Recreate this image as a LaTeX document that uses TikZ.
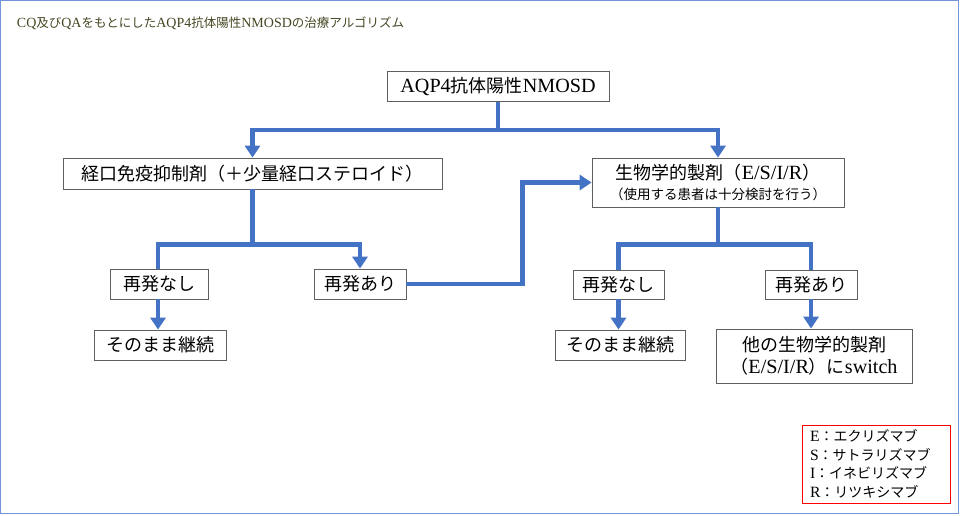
\documentclass[tikz,border=0pt]{standalone}
\usepackage{fontspec}
\setmainfont{Liberation Serif}[Scale=1.12]
\newfontfamily\jp{Noto Sans CJK JP}
\usepackage{tikz}
\usetikzlibrary{arrows.meta, positioning}
\definecolor{linkblue}{RGB}{68,114,196}
\definecolor{frameblue}{RGB}{114,148,216}
\definecolor{titlegreen}{RGB}{70,70,35}
\definecolor{boxgray}{RGB}{95,95,95}
\begin{document}
\begin{tikzpicture}[x=1pt, y=-1pt,
	box/.style = {draw=boxgray, line width=0.8pt, fill=white, inner sep=2pt, align=center, font=\fontsize{18}{22}\selectfont},
	link/.style = {draw=linkblue, line width=4.5pt},
	arrow/.style = {-{Triangle[width=15pt, length=12pt]}},
	legendbox/.style = {draw=red, line width=0.8pt, align=left, text width=132pt, inner xsep=8pt, minimum width=148pt, minimum height=78pt, font=\fontsize{14}{18.5}\selectfont}]
	\useasboundingbox (0,0) rectangle (960,515);
	\draw[frameblue, line width=1pt] (0.5,0.5) rectangle (958.5,513.5);
	\node[anchor=west, text=titlegreen, font=\fontsize{12.5}{14}\selectfont] (title) at (13,23.5) {CQ{\jp 及び}QA{\jp をもとにした}AQP4{\jp 抗体陽性}NMOSD{\jp の治療アルゴリズム}};
	\node[box, minimum width=222pt, minimum height=30pt] (aqp) at (498,86.5) {AQP4{\jp 抗体陽性}NMOSD};
	\node[box, minimum width=379pt, minimum height=31pt] (oral) at (252.5,173.5) {\jp 経口免疫抑制剤（＋少量経口ステロイド）};
	\node[box, minimum width=252pt, minimum height=49pt, font=\fontsize{18}{20}\selectfont] (bio) at (718,182.5) {{\jp 生物学的製剤（}E/S/I/R{\jp ）}\\{\fontsize{13.5}{16}\selectfont\jp （使用する患者は十分検討を行う）}};
	\node[box, minimum width=98pt, minimum height=30pt] (lnone) at (159,284) {\jp 再発なし};
	\node[box, minimum width=92pt, minimum height=30pt] (lrel) at (360,284) {\jp 再発あり};
	\node[box, minimum width=132pt, minimum height=30pt] (lkeep) at (160,345) {\jp そのまま継続};
	\node[box, minimum width=91pt, minimum height=29pt] (rnone) at (618.5,284.5) {\jp 再発なし};
	\node[box, minimum width=92pt, minimum height=29pt] (rrel) at (811,284.5) {\jp 再発あり};
	\node[box, minimum width=130pt, minimum height=30pt] (rkeep) at (620,345) {\jp そのまま継続};
	\node[box, minimum width=196pt, minimum height=54pt] (rswitch) at (814,356) {{\jp 他の生物学的製剤}\\{\jp （}E/S/I/R{\jp ）に}switch};
	\node[legendbox] (legend) at (876,464) {E{\jp ：エクリズマブ}\\S{\jp ：サトラリズマブ}\\I{\jp ：イネビリズマブ}\\R{\jp ：リツキシマブ}};
	\draw[link] (aqp.south) -- ++(0,28) coordinate (j1);
	\draw[link, arrow] (j1) -| (oral.north);
	\draw[link, arrow] (j1) -| (bio.north);
	\draw[link] (oral.south) -- ++(0,55) coordinate (j2);
	\draw[link] (j2) -| ([xshift=-1pt]lnone.north);
	\draw[link, arrow] (j2) -| (lrel.north);
	\draw[link, arrow] (lrel.east) -- ++(116,0) |- (bio.west);
	\draw[link] (bio.south) -- ++(0,37) coordinate (j3);
	\draw[link] (j3) -| (rnone.north);
	\draw[link] (j3) -| (rrel.north);
	\draw[link, arrow] ([xshift=-1pt]lnone.south) -- ([xshift=-1pt]lnone.south |- lkeep.north);
	\draw[link, arrow] (rnone.south) -- (rnone.south |- rkeep.north);
	\draw[link, arrow] (rrel.south) -- (rrel.south |- rswitch.north);
\end{tikzpicture}
\end{document}
